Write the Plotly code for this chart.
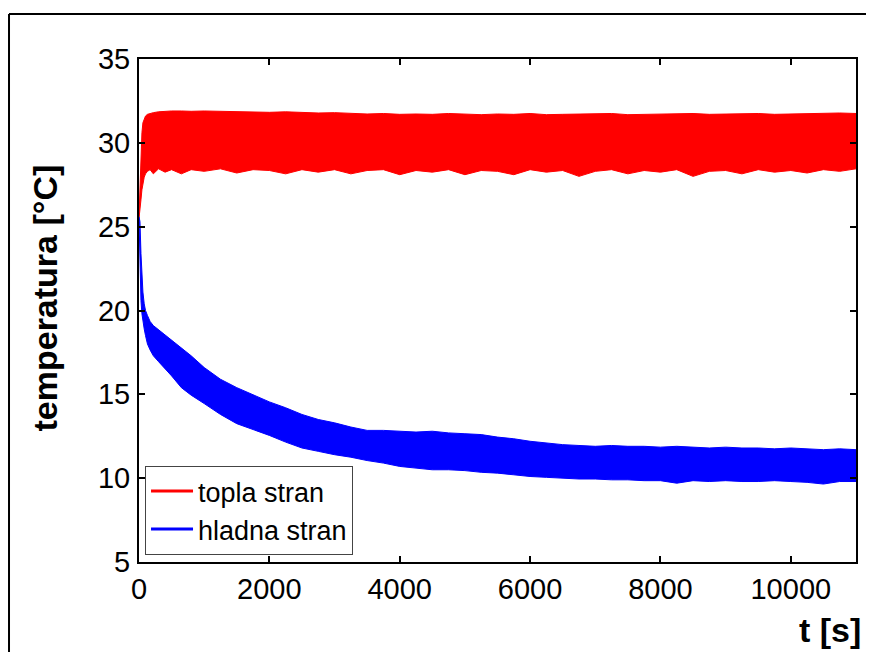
import plotly.graph_objects as go

# ---- data ----
t_s = [0, 15, 30, 45, 60, 80, 100, 130, 170, 220, 300, 400, 500, 650, 800,
       1000, 1250, 1500, 1750, 2000, 2250, 2500, 2750, 3000, 3250, 3500, 3750,
       4000, 4250, 4500, 4750, 5000, 5250, 5500, 5750, 6000, 6250, 6500, 6750,
       7000, 7250, 7500, 7750, 8000, 8250, 8500, 8750, 9000, 9250, 9500, 9750,
       10000, 10250, 10500, 10750, 11000]

topla_upper = [25.6, 27.8, 29.6, 30.6, 31.2, 31.45, 31.6, 31.7, 31.75, 31.8, 31.85, 31.88, 31.9, 31.9, 31.88,
               31.9, 31.88, 31.9, 31.85, 31.82, 31.85, 31.8, 31.78, 31.8, 31.75, 31.72, 31.75,
               31.7, 31.72, 31.7, 31.75, 31.7, 31.68, 31.72, 31.7, 31.75, 31.68, 31.7, 31.72,
               31.7, 31.75, 31.68, 31.7, 31.72, 31.7, 31.75, 31.7, 31.72, 31.7, 31.75, 31.7,
               31.72, 31.75, 31.8, 31.78, 31.75]
topla_lower = [25.5, 25.9, 26.6, 27.2, 27.6, 27.95, 28.15, 28.3, 28.4, 28.15, 28.45, 28.25, 28.4, 28.15, 28.4,
               28.3, 28.45, 28.2, 28.4, 28.35, 28.15, 28.4, 28.25, 28.4, 28.15, 28.35, 28.4,
               28.1, 28.35, 28.25, 28.4, 28.1, 28.35, 28.3, 28.1, 28.4, 28.25, 28.35, 28.0,
               28.3, 28.4, 28.15, 28.35, 28.25, 28.4, 28.0, 28.3, 28.35, 28.15, 28.4, 28.25,
               28.35, 28.2, 28.4, 28.3, 28.45]

hladna_upper = [25.6, 25.3, 23.4, 22.0, 21.1, 20.4, 20.0, 19.7, 19.35, 19.1, 18.85, 18.55, 18.25, 17.8, 17.3,
                16.6, 15.9, 15.4, 14.95, 14.55, 14.2, 13.8, 13.5, 13.3, 13.05, 12.85, 12.85,
                12.8, 12.75, 12.8, 12.7, 12.65, 12.6, 12.45, 12.35, 12.2, 12.1, 12.0, 11.95,
                11.9, 11.95, 11.9, 11.9, 11.85, 11.9, 11.85, 11.8, 11.85, 11.8, 11.8, 11.75,
                11.8, 11.75, 11.7, 11.75, 11.7]
hladna_lower = [25.5, 22.5, 20.6, 19.8, 19.35, 18.9, 18.5, 18.0, 17.65, 17.3, 16.95, 16.55, 16.1, 15.4, 14.95,
                14.45, 13.8, 13.25, 12.9, 12.55, 12.15, 11.8, 11.6, 11.4, 11.25, 11.05, 10.9,
                10.7, 10.6, 10.5, 10.5, 10.45, 10.35, 10.3, 10.2, 10.1, 10.05, 10.0, 9.95,
                9.95, 9.9, 9.9, 9.85, 9.85, 9.7, 9.85, 9.8, 9.85, 9.8, 9.8, 9.85,
                9.8, 9.75, 9.65, 9.8, 9.8]

series_names = ["topla stran", "hladna stran"]
x_ticks = [0, 2000, 4000, 6000, 8000, 10000]
y_ticks = [5, 10, 15, 20, 25, 30, 35]
x_title = "t [s]"
y_title = "temperatura [°C]"

RED = "#ff0000"
BLUE = "#0000ff"
FONT = "Liberation Sans, Arial, sans-serif"

fig = go.Figure()

for lower, upper, color, name in [(topla_lower, topla_upper, RED, series_names[0]),
                                  (hladna_lower, hladna_upper, BLUE, series_names[1])]:
    fig.add_trace(go.Scatter(x=t_s, y=lower, mode="lines", line=dict(color=color, width=1),
                             showlegend=False, hoverinfo="skip"))
    fig.add_trace(go.Scatter(x=t_s, y=upper, mode="lines", line=dict(color=color, width=1),
                             fill="tonexty", fillcolor=color, showlegend=False, hoverinfo="skip"))

for color, name in [(RED, series_names[0]), (BLUE, series_names[1])]:
    fig.add_trace(go.Scatter(x=[None], y=[None], mode="lines", name=name,
                             line=dict(color=color, width=3)))

axis_common = dict(showline=True, linecolor="black", linewidth=2, mirror="ticks",
                   ticks="inside", ticklen=6, tickwidth=1.5, tickcolor="black",
                   showgrid=False, zeroline=False,
                   tickfont=dict(family=FONT, size=29, color="black"))

fig.update_xaxes(range=[0, 11000], tickvals=x_ticks, ticktext=[str(v) for v in x_ticks],
                 **axis_common)
fig.update_yaxes(range=[5, 35], tickvals=y_ticks, ticktext=[str(v) for v in y_ticks],
                 ticklabelstandoff=1, **axis_common)

# page body has an 8px margin: the figure is offset by 8px inside the window
fig.update_layout(
    width=866, height=644,
    margin=dict(l=131, r=18, t=51, b=90),
    paper_bgcolor="white", plot_bgcolor="white",
    font=dict(family=FONT, color="black"),
    showlegend=True,
    legend=dict(x=0.0084, y=0.014, xanchor="left", yanchor="bottom",
                bgcolor="white", bordercolor="#444444", borderwidth=1,
                font=dict(family=FONT, size=27, color="black"),
                traceorder="normal", tracegroupgap=0, itemwidth=42),
    annotations=[
        dict(text="<b>" + x_title + "</b>", xref="paper", yref="paper",
             x=1.0098, y=-0.135, xanchor="right", yanchor="middle", showarrow=False,
             font=dict(family=FONT, size=34, color="black")),
        dict(text="<b>" + y_title + "</b>", xref="paper", yref="paper",
             x=-0.131, y=0.524, xanchor="center", yanchor="middle", textangle=-90,
             showarrow=False, font=dict(family=FONT, size=34, color="black")),
    ],
    shapes=[
        dict(type="line", xref="paper", yref="paper", x0=-0.1813, x1=-0.1813, y0=-0.25, y1=1.0895,
             line=dict(color="black", width=2)),
        dict(type="line", xref="paper", yref="paper", x0=-0.1813, x1=1.1, y0=1.0895, y1=1.0895,
             line=dict(color="black", width=2)),
    ],
)

fig.write_html("out.html")
